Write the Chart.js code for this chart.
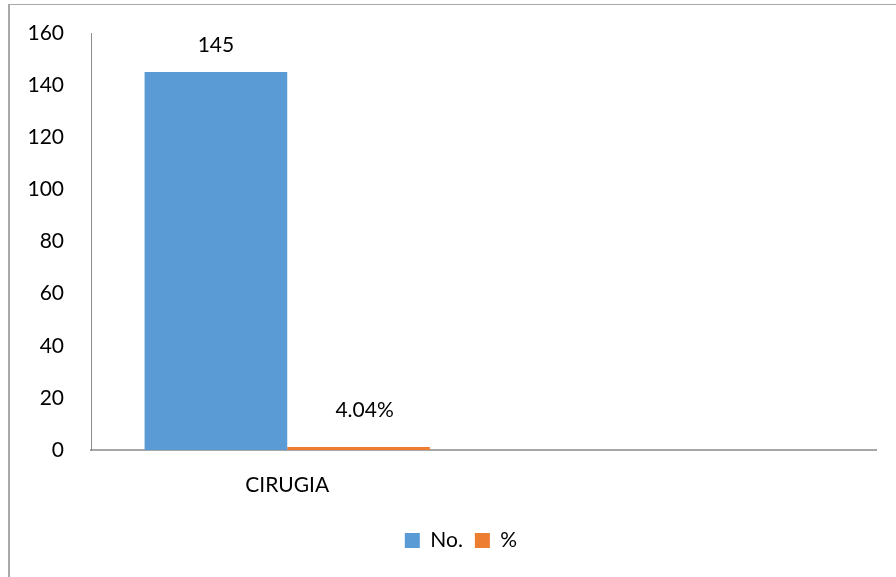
<!DOCTYPE html>
<html>
<head>
<meta charset="utf-8">
<script src="https://cdn.jsdelivr.net/npm/chart.js@4/dist/chart.umd.min.js"></script>
<style>
	html, body { margin: 0; padding: 0; background: #fff; overflow: hidden; }
	#wrap { position: relative; width: 896px; height: 577px; }
</style>
</head>
<body>
<div id="wrap"><canvas id="chart"></canvas></div>
<script>
// data
const categories = ['CIRUGIA', ''];
const cantidad = [145, null];
const porcentaje = [0.0404, null];
const seriesNames = ['No.', '%'];
const yMin = 0;
const yMax = 160;
const yStep = 20;

const FONT = 'Lato, "Open Sans", sans-serif';
const FSIZE = 21;

// outer frame (top + left edge of the Excel chart box)
const framePlugin = {
	id: 'frame',
	beforeDraw(chart) {
		const ctx = chart.ctx;
		ctx.save();
		ctx.strokeStyle = '#a9a9a9';
		ctx.lineWidth = 2;
		ctx.beginPath();
		ctx.moveTo(9, 4);
		ctx.lineTo(9, chart.height);
		ctx.stroke();
		ctx.lineWidth = 1;
		ctx.beginPath();
		ctx.moveTo(8, 4.5);
		ctx.lineTo(chart.width, 4.5);
		ctx.stroke();
		ctx.restore();
	}
};

// Excel centres the legend a bit right of ours
const legendShift = {
	id: 'legendShift',
	afterLayout(chart) {
		if (!chart.legend) return;
		chart.legend.left += 23;
		chart.legend.right += 23;
	}
};

// value labels above the bars
const labelPlugin = {
	id: 'barLabels',
	afterDatasetsDraw(chart) {
		const ctx = chart.ctx;
		ctx.save();
		ctx.font = FSIZE + 'px ' + FONT;
		ctx.fillStyle = '#000';
		ctx.textAlign = 'center';
		ctx.textBaseline = 'middle';
		chart.data.datasets.forEach((ds, i) => {
			const meta = chart.getDatasetMeta(i);
			meta.data.forEach((bar, j) => {
				const v = ds.data[j];
				if (v === null || v === undefined) return;
				const text = ds.isPercent ? (v * 100).toFixed(2) + '%' : String(v);
				ctx.fillText(text, bar.x + ds.labelDx, bar.y - ds.labelDy);
			});
		});
		ctx.restore();
	}
};

const ctx = document.getElementById('chart').getContext('2d');
new Chart(ctx, {
	type: 'bar',
	data: {
		labels: categories,
		datasets: [
			{
				label: seriesNames[0],
				data: cantidad,
				backgroundColor: '#5B9BD5',
				categoryPercentage: 0.727,
				barPercentage: 1,
				labelDx: 0,
				labelDy: 27
			},
			{
				label: seriesNames[1],
				data: porcentaje,
				isPercent: true,
				backgroundColor: '#ED7D31',
				categoryPercentage: 0.727,
				barPercentage: 1,
				minBarLength: 3,
				labelDx: 6,
				labelDy: 37
			}
		]
	},
	options: {
		responsive: true,
		maintainAspectRatio: false,
		animation: false,
		layout: {
			padding: { top: 33, right: 20, left: 0, bottom: 16 }
		},
		scales: {
			x: {
				grid: { display: false, drawTicks: false },
				border: { color: '#a6a6a6', width: 2 },
				ticks: {
					color: '#000',
					padding: 23,
					font: { family: FONT, size: FSIZE }
				},
				afterFit(scale) {
					scale.height = 68;
				}
			},
			y: {
				min: yMin,
				max: yMax,
				grid: { display: false, drawTicks: false },
				border: { color: '#8c8c8c', width: 1 },
				ticks: {
					stepSize: yStep,
					color: '#000',
					padding: 27,
					font: { family: FONT, size: FSIZE, lineHeight: 0.5 }
				},
				afterFit(scale) {
					scale.width = 91;
				}
			}
		},
		plugins: {
			legend: {
				position: 'bottom',
				labels: {
					color: '#000',
					boxWidth: 15,
					boxHeight: 15,
					padding: 12,
					font: { family: FONT, size: FSIZE }
				}
			},
			tooltip: { enabled: false }
		}
	},
	plugins: [framePlugin, legendShift, labelPlugin]
});
</script>
</body>
</html>
